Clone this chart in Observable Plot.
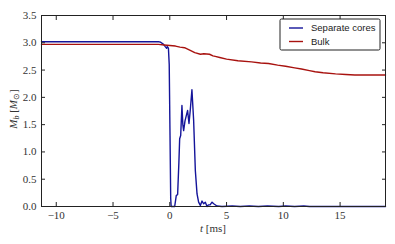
<!DOCTYPE html>
<html><head><meta charset="utf-8">
<script src="https://cdn.jsdelivr.net/npm/d3@7"></script>
<script src="https://cdn.jsdelivr.net/npm/@observablehq/plot@0.6"></script>
<style>
body{margin:0;background:#fff}
#chart svg text{font-family:"Liberation Serif",serif}
#chart svg g.legend text{font-family:"Liberation Sans",Arial,sans-serif}
</style>
</head><body><div id="chart"></div>
<script>
const seriesNames = ["Separate cores", "Bulk"];
const coresT = [-11.3, -3, -1.0, -0.8, -0.55, -0.4, -0.28, -0.22, -0.12, -0.05, 0.02, 0.08, 0.12, 0.43, 0.5, 0.57, 0.69, 0.8, 0.87, 0.96, 1.07, 1.15, 1.22, 1.34, 1.46, 1.57, 1.69, 1.8, 1.95, 2.1, 2.25, 2.4, 2.54, 2.69, 2.84, 2.98, 3.13, 3.28, 3.4, 3.55, 3.72, 3.87, 4.15, 4.6, 5.5, 6.2, 7.0, 7.8, 8.6, 9.6, 10.2, 11.0, 11.8, 12.3, 13, 19];
const coresM = [3.02, 3.02, 3.02, 3.01, 2.97, 2.93, 2.90, 2.93, 2.90, 2.6, 1.3, 0.15, 0.0, 0.0, 0.1, 0.2, 0.22, 0.8, 1.24, 1.30, 1.85, 1.5, 1.39, 1.57, 1.67, 1.76, 1.52, 1.76, 2.14, 1.58, 0.66, 0.23, 0.08, 0.02, 0.10, 0.05, 0.08, 0.0, 0.03, 0.03, 0.08, 0.05, 0.01, 0.0, 0.01, 0.0, 0.01, 0.0, 0.01, 0.0, 0.01, 0.0, 0.01, 0.0, 0.0, 0.0];
const bulkT = [-11.3, -3, -1, -0.5, 0, 0.5, 0.9, 1.3, 1.8, 2.2, 2.7, 3.0, 3.5, 3.8, 4.0, 4.4, 5.0, 6.0, 7.2, 8.0, 8.7, 9.5, 10.2, 11.0, 11.6, 12.3, 12.8, 13.5, 14.6, 15.5, 16.3, 17.5, 19];
const bulkM = [2.97, 2.97, 2.97, 2.96, 2.95, 2.94, 2.92, 2.91, 2.86, 2.82, 2.79, 2.80, 2.79, 2.76, 2.75, 2.73, 2.70, 2.67, 2.65, 2.63, 2.62, 2.59, 2.57, 2.54, 2.52, 2.49, 2.47, 2.45, 2.43, 2.42, 2.41, 2.41, 2.41];
const xTicks = [-10, -5, 0, 5, 10, 15];
const yTicks = [0, 0.5, 1.0, 1.5, 2.0, 2.5, 3.0, 3.5];
const colors = ["#14149a", "#a8120f"];
const serif = "Liberation Serif";

const data = [
  ...coresT.map((t, i) => ({t, m: coresM[i], s: seriesNames[0]})),
  ...bulkT.map((t, i) => ({t, m: bulkM[i], s: seriesNames[1]}))
];
const fmtX = d => d < 0 ? "\u2212" + Math.abs(d) : String(d);
const fmtY = d3.format(".1f");

const plot = Plot.plot({
  width: 395, height: 244,
  marginLeft: 41, marginRight: 10, marginTop: 15, marginBottom: 38,
  style: {fontSize: "11px", fontFamily: serif, background: "#fff", color: "#333"},
  x: {domain: [-11.3, 19]},
  y: {domain: [0, 3.5]},
  color: {domain: seriesNames, range: colors},
  marks: [
    Plot.line(data, {x: "t", y: "m", stroke: "s", strokeWidth: 1.4, z: "s"}),
    Plot.axisX({ticks: xTicks, anchor: "bottom", tickSize: -4, tickPadding: 9, tickFormat: fmtX, label: null, stroke: "#222", fontFamily: serif}),
    Plot.axisX({ticks: xTicks, anchor: "top", tickSize: -4, text: null, label: null, stroke: "#222"}),
    Plot.axisY({ticks: yTicks, anchor: "left", tickSize: -4, tickPadding: 9, tickFormat: fmtY, label: null, stroke: "#222", fontFamily: serif}),
    Plot.axisY({ticks: yTicks, anchor: "right", tickSize: -4, text: null, label: null, stroke: "#222"}),
    Plot.frame({stroke: "#222", strokeWidth: 1})
  ]
});
document.getElementById("chart").appendChild(plot);

const svg = d3.select(plot);
// y label
const yl = svg.append("text")
  .attr("transform", "translate(17,109) rotate(-90)")
  .attr("text-anchor", "middle")
  .attr("font-size", 11).attr("fill", "#333");
yl.append("tspan").attr("font-style", "italic").text("M");
yl.append("tspan").attr("font-style", "italic").attr("font-size", 8).attr("dy", 2).text("b");
yl.append("tspan").attr("dy", -2).text(" [");
yl.append("tspan").attr("font-style", "italic").text("M");
yl.append("tspan").attr("font-size", 8).attr("dy", 2).text("\u2299");
yl.append("tspan").attr("dy", -2).text("]");
// x label
const xl = svg.append("text")
  .attr("x", 213).attr("y", 232)
  .attr("text-anchor", "middle")
  .attr("font-size", 11).attr("fill", "#333");
xl.append("tspan").attr("font-style", "italic").text("t");
xl.append("tspan").text(" [ms]");
// legend
const lg = svg.append("g").attr("class", "legend").attr("font-size", 9.5).attr("text-anchor", "start");
lg.append("rect").attr("x", 280).attr("y", 19).attr("width", 100).attr("height", 31)
  .attr("fill", "#fff").attr("stroke", "#222").attr("rx", 1.5);
seriesNames.forEach((name, i) => {
  const y = 28 + i * 13.5;
  lg.append("line").attr("x1", 289).attr("x2", 303).attr("y1", y).attr("y2", y)
    .attr("stroke", colors[i]).attr("stroke-width", 1.4);
  lg.append("text").attr("x", 311).attr("y", y).attr("dy", "0.35em").attr("fill", "#222").text(name);
});
</script>
</body></html>
